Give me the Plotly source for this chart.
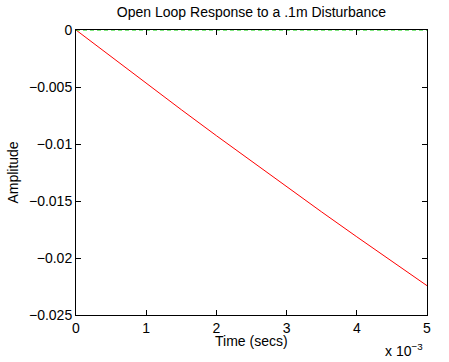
import plotly.graph_objects as go

# Data (time in seconds, amplitude)
time_s = [0, 0.0005, 0.001, 0.0015, 0.002, 0.0025, 0.003, 0.0035, 0.004, 0.0045, 0.005]
amplitude = [0, -0.002355, -0.004685, -0.006990, -0.00927, -0.011525, -0.013756,
             -0.015961, -0.018142, -0.020298, -0.022428]
ref_time = [0, 0.005]
ref_level = [0, 0]

x_tickvals = [0, 0.001, 0.002, 0.003, 0.004, 0.005]
x_ticktext = ["0", "1", "2", "3", "4", "5"]
y_tickvals = [0, -0.005, -0.01, -0.015, -0.02, -0.025]
y_ticktext = ["0", "\u22120.005", "\u22120.01", "\u22120.015", "\u22120.02", "\u22120.025"]

FONT = "Liberation Sans, Arial, Helvetica, sans-serif"

fig = go.Figure()
fig.add_trace(go.Scatter(x=time_s, y=amplitude, mode="lines",
                         line=dict(color="#ff0000", width=1), showlegend=False))
fig.add_trace(go.Scatter(x=ref_time, y=ref_level, mode="lines",
                         line=dict(color="#00cc00", width=1, dash="4px,3px"),
                         showlegend=False, cliponaxis=False))

fig.update_layout(
    width=449, height=362,
    margin=dict(l=76, r=22, t=30, b=47),
    paper_bgcolor="white", plot_bgcolor="white",
    font=dict(family=FONT, size=13, color="black"),
    title=dict(text="Open Loop Response to a .1m Disturbance",
               x=0.5 + (76 - 22) / 2 / 449, xanchor="center",
               y=1 - 12 / 362, yanchor="middle",
               font=dict(size=14, family=FONT, color="black")),
    xaxis=dict(range=[0, 0.005], tickvals=x_tickvals, ticktext=x_ticktext,
               ticks="inside", ticklen=5, tickcolor="black",
               showline=True, linecolor="black", linewidth=1, mirror="ticks",
               showgrid=False, zeroline=False, tickfont=dict(size=14)),
    yaxis=dict(range=[-0.025, 0], tickvals=y_tickvals, ticktext=y_ticktext,
               ticks="inside", ticklen=5, tickcolor="black",
               showline=True, linecolor="black", linewidth=1, mirror="ticks",
               showgrid=False, zeroline=False, tickfont=dict(size=14)),
    annotations=[
        dict(text="Time (secs)", xref="paper", yref="paper", x=0.5, y=-0.055,
             xanchor="center", yanchor="top", showarrow=False, font=dict(size=14)),
        dict(text="Amplitude", xref="paper", yref="paper", x=-0.182, y=0.5,
             xanchor="center", yanchor="middle", textangle=-90, showarrow=False,
             font=dict(size=14)),
        dict(text="x 10<sup>\u22123</sup>", xref="paper", yref="paper", x=0.995, y=-0.085,
             xanchor="right", yanchor="top", showarrow=False, font=dict(size=14)),
    ],
)

fig.write_html("out.html", config={"displayModeBar": False},
               post_script="document.body.style.margin='0';")
